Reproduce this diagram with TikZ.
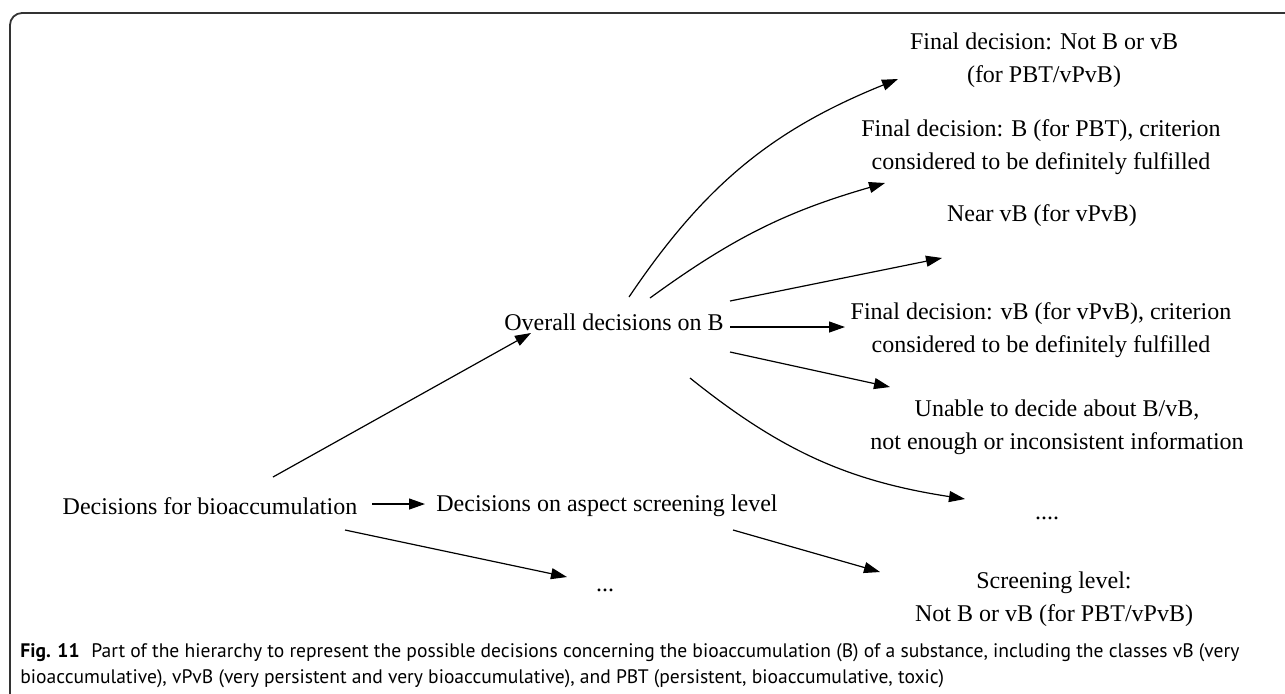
\documentclass[tikz,border=0pt]{standalone}
\usepackage{fontspec}
\setmainfont{Liberation Serif}
\setsansfont{PT Sans}
\usetikzlibrary{arrows.meta,calc}
\tikzset{
  box/.style={align=center,font=\fontsize{12}{16.5}\selectfont},
  arr/.style={-{Triangle[length=8pt,width=5.5pt]},line width=0.6pt},
}
\begin{document}
\begin{tikzpicture}[x=0.5pt,y=-0.5pt]
\useasboundingbox(0,0)rectangle(1285,693);
\draw[line width=0.9pt,black!80,rounded corners=6pt](10,700)--(10,13)--(1290,13);
% left part
\node[box](bio)at(210,506){Decisions for bioaccumulation};
\node[box](overall)at(614,322){Overall decisions on B};
\node[box](aspect)at(607,506){Decisions on aspect screening level};
\node[box](dotsA)at(605,590){...};
% right column
\node[box](notB)at(1044,60){Final decision: Not B or vB\\(for PBT/vPvB)};
\node[box](defB)at(1041,147){Final decision: B (for PBT), criterion\\considered to be definitely fulfilled};
\node[box](nearvB)at(1042,216){Near vB (for vPvB)};
\node[box](defvB)at(1041,330){Final decision: vB (for vPvB), criterion\\considered to be definitely fulfilled};
\node[box](unable)at(1057,427){Unable to decide about B/vB,\\not enough or inconsistent information};
\node[box](dotsB)at(1047,518){....};
\node[box](screen)at(1054,599){Screening level:\\Not B or vB (for PBT/vPvB)};
% arrows
\draw[arr]($(bio)+(63,-29)$)--($(overall)+(-83,11)$);
\draw[arr]($(bio)+(162,-2)$)--($(aspect)+(-182,-2)$);
\draw[arr]($(bio)+(135,24)$)--($(dotsA)+(-38,-13)$);
\draw[arr]($(aspect)+(126,24)$)--($(screen)+(-174,-27)$);
\draw[arr]($(overall)+(15,-25)$)to[bend left=17]($(notB)+(-146,19)$);
\draw[arr]($(overall)+(36,-24)$)to[bend left=10]($(defB)+(-156,36)$);
\draw[arr]($(overall)+(116,-21)$)--($(nearvB)+(-100,42)$);
\draw[arr]($(overall)+(116,5)$)--($(defvB)+(-196,-3)$);
\draw[arr]($(overall)+(116,30)$)--($(unable)+(-167,-40)$);
\draw[arr]($(overall)+(76,56)$)to[bend right=15]($(dotsB)+(-82,-19)$);
% caption
\node[anchor=north west,inner sep=0pt,align=left,font=\sffamily\fontsize{9.78}{13}\selectfont](cap)at(20,643){\textbf{Fig. 11}\hspace{0.6em}Part of the hierarchy to represent the possible decisions concerning the bioaccumulation (B) of a substance, including the classes vB (very\\bioaccumulative), vPvB (very persistent and very bioaccumulative), and PBT (persistent, bioaccumulative, toxic)};
\end{tikzpicture}
\end{document}
